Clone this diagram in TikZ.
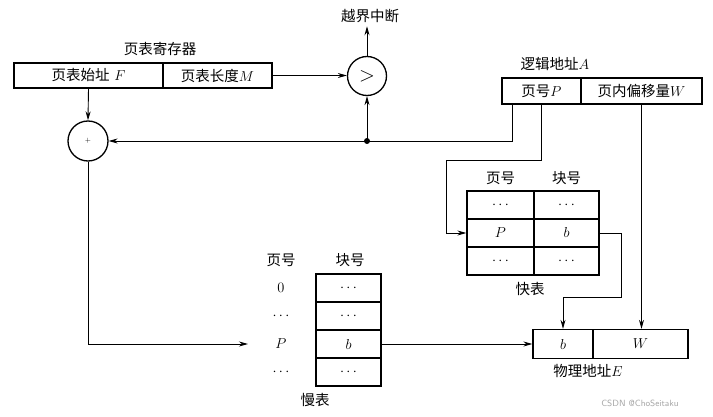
\documentclass[tikz,border=0pt]{standalone}
\usepackage{fontspec}
\newfontfamily\cjk{Noto Sans CJK SC}
\usetikzlibrary{arrows.meta,calc}
\begin{document}
\begin{tikzpicture}[x=1pt,y=-1pt,
  every node/.style={font=\fontsize{14.5}{16}\selectfont},
  cell/.style={draw,line width=1.3pt,inner sep=0pt,minimum height=28pt},
  circ/.style={draw,circle,line width=1.3pt,inner sep=0pt,minimum size=39pt},
  arr/.style={line width=0.9pt,-{Stealth[length=9pt,width=5pt]}}]
\fill[white] (0,0) rectangle (713,417);
% page table register
\node[cell,minimum width=149pt,minimum height=25pt] (reg1) at (88.5,75.5) {{\cjk 页表始址} $F$};
\node[cell,minimum width=109pt,minimum height=25pt] (reg2) at (217.5,75.5) {{\cjk 页表长度}$M$};
\node (regl) at (160,49) {\cjk 页表寄存器};
% comparator and adder
\node[circ] (cmp) at (367,76) {\fontsize{20}{20}\selectfont $>$};
\node (intr) at (370,16) {\cjk 越界中断};
\node[circ,minimum size=40pt] (add) at (88,141) {\fontsize{7}{7}\selectfont $+$};
% logical address
\node[cell,minimum width=79pt,minimum height=26pt] (la1) at (541.5,91) {{\cjk 页号}$P$};
\node[cell,minimum width=121pt,minimum height=26pt] (la2) at (641.5,91) {{\cjk 页内偏移量}$W$};
\node (lal) at (555,64) {{\cjk 逻辑地址}$A$};
% fast table
\node (fh1) at (500.5,178) {\cjk 页号};
\node (fh2) at (566.5,178) {\cjk 块号};
\node[cell,minimum width=67pt] (f11) at (500.5,205) {$\cdots$};
\node[cell,minimum width=65pt] (f12) at (566.5,205) {$\cdots$};
\node[cell,minimum width=67pt] (fP) at (500.5,233) {$P$};
\node[cell,minimum width=65pt] (fb) at (566.5,233) {$b$};
\node[cell,minimum width=67pt] (f31) at (500.5,261) {$\cdots$};
\node[cell,minimum width=65pt] (f32) at (566.5,261) {$\cdots$};
\node (fl) at (530,289) {\cjk 快表};
% slow table
\node (sh1) at (281,260) {\cjk 页号};
\node (sh2) at (350,260) {\cjk 块号};
\node[cell,minimum width=65pt] (s1) at (348.5,288) {$\cdots$};
\node[cell,minimum width=65pt] (s2) at (348.5,316) {$\cdots$};
\node[cell,minimum width=65pt] (sb) at (348.5,344) {$b$};
\node[cell,minimum width=65pt] (s4) at (348.5,372) {$\cdots$};
\node (p0) at (281,288) {$0$};
\node (p1) at (281,316) {$\cdots$};
\node (sP) at (281,344) {$P$};
\node (p3) at (281,372) {$\cdots$};
\node (sl) at (315,400) {\cjk 慢表};
% physical address
\node[cell,minimum width=60pt,minimum height=29pt] (pb) at (563,344) {$b$};
\node[cell,minimum width=95pt,minimum height=29pt] (pW) at (640.5,344) {$W$};
\node (pl) at (588,371) {{\cjk 物理地址}$E$};
% watermark
\node[text=gray!70,font=\fontsize{9}{10}\selectfont\sffamily] (wm) at (640,403) {CSDN @ChoSeitaku};
% connectors
\coordinate (dot) at (cmp |- add);
\coordinate (k1) at (446,160);
\coordinate (k2) at (621,297);
\coordinate (pin) at (248,344);
\draw[arr] (reg2.east) -- (reg2.east -| cmp.west);
\draw[arr] (cmp.north) -- (cmp.north |- intr.south);
\draw[arr] (reg1.south) -- (add.north);
\draw[arr] ($(la1.south west)+(11,0)$) |- (add.east);
\fill (dot) circle (3pt);
\draw[arr] (dot) -- (cmp.south);
\draw[arr] (la1.south) |- (k1) |- (fP.west);
\draw[arr] (la2.south) -- (la2.south |- pW.north);
\draw[arr] (fb.east) -| (k2) -| (pb.north);
\draw[arr] (sb.east) -- (pb.west);
\draw[arr] (add.south) |- (pin);
\end{tikzpicture}
\end{document}
